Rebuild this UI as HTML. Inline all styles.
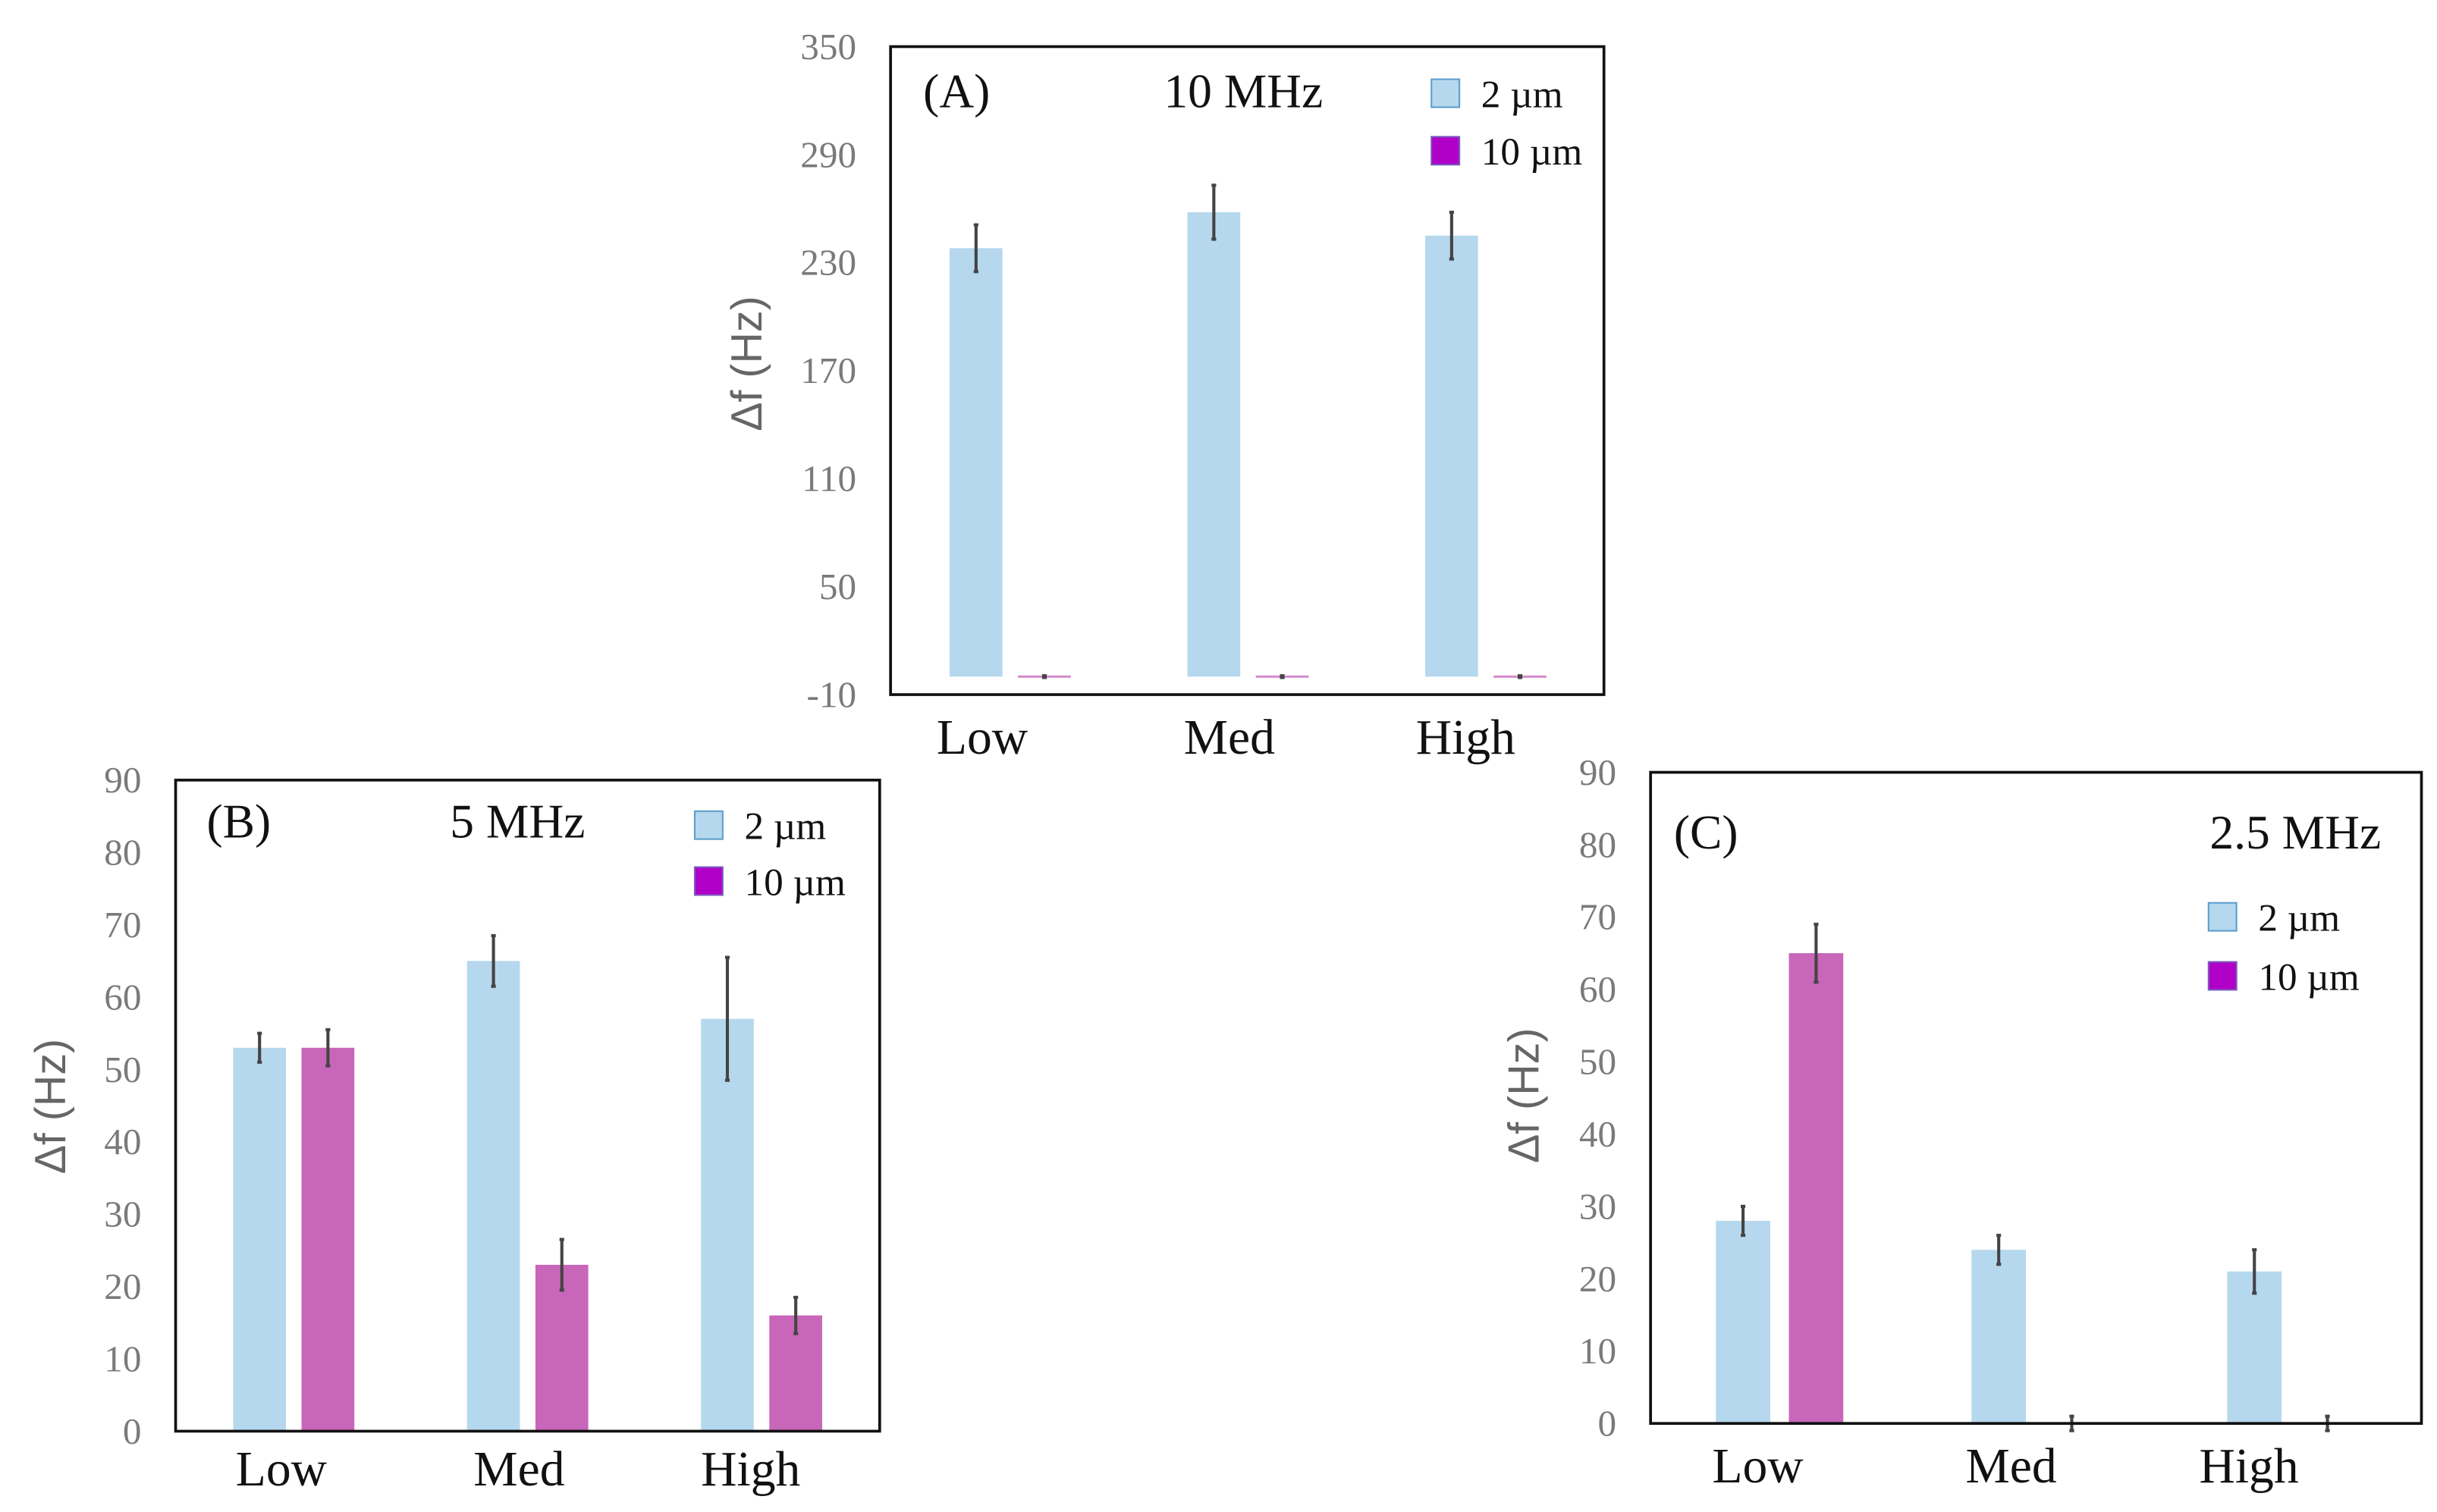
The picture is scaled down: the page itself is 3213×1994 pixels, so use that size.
<!DOCTYPE html>
<html><head><meta charset="utf-8"><style>
html,body{margin:0;padding:0;background:#fff}
svg{display:block}
</style></head><body>
<svg id="fig" width="3213" height="1994" viewBox="0 0 1568 973" preserveAspectRatio="none" xmlns="http://www.w3.org/2000/svg"></svg>
<script>
const categories = ["Low", "Med", "High"];
const seriesNames = ["2 µm", "10 µm"];
const aSmall = [238, 258, 245];
const aLarge = [0, 0, 0];
const aSmallErr = [13, 15, 13];
const aLargeErr = [0.5, 0.5, 0.5];
const aTicks = [-10, 50, 110, 170, 230, 290, 350];
const bSmall = [53, 65, 57];
const bLarge = [53, 23, 16];
const bSmallErr = [2, 3.5, 8.5];
const bLargeErr = [2.5, 3.5, 2.5];
const bTicks = [0, 10, 20, 30, 40, 50, 60, 70, 80, 90];
const cSmall = [28, 24, 21];
const cLarge = [65, 0, 0];
const cSmallErr = [2, 2, 3];
const cLargeErr = [4, 1, 1];
const cTicks = [0, 10, 20, 30, 40, 50, 60, 70, 80, 90];

const NS = "http://www.w3.org/2000/svg";
const svg = document.getElementById("fig");
function mk(tag, attrs, parent, text) {
  const e = document.createElementNS(NS, tag);
  for (const k in attrs) e.setAttribute(k, attrs[k]);
  if (text !== undefined) e.textContent = text;
  (parent || svg).appendChild(e);
  return e;
}

function panel(o) {
  const g = mk("g", {});
  
  
  const yMin = o.ticks[0], yMax = o.ticks[o.ticks.length - 1];
  const y = v => o.bottom - (v - yMin) / (yMax - yMin) * (o.bottom - o.top);
  o.ticks.forEach(t => {
    const tx = mk("text", {x: o.tickX, y: y(t) + 8, "text-anchor": "end", "font-family": "Liberation Serif, serif", "font-size": 24, fill: "#7a7a7a"}, g, String(t));
    
    
  });
  const yt = mk("text", {x: 0, y: 0, transform: `translate(${o.yTitleX},${o.yTitleY}) rotate(-90)`, "text-anchor": "middle", "font-family": "Liberation Sans, sans-serif", "font-size": 28, fill: "#666"}, g, "Δf (Hz)");
  
  
  const series = [[o.s1, o.e1, "#b5d8ee", 0], [o.s2, o.e2, "#c866b9", 1]];
  categories.forEach((c, i) => {
    const gx = o.g0 + i * o.gStep;
    series.forEach(([vals, errs, col, si]) => {
      const x0 = gx + si * o.offset;
      const v = vals[i];
      const yb = y(o.base), yv = y(v);
      if (v > 0) {
        const r = mk("rect", {x: x0, y: yv, width: o.bw, height: yb - yv, fill: col}, g);
        
        
      } else if (o.id === "a") {
        const l = mk("line", {x1: x0, x2: x0 + o.bw, y1: yv, y2: yv, stroke: "#d58ccc", "stroke-width": 1.5}, g);
        
        
      }
      const cx = x0 + o.bw / 2;
      const eb = mk("path", {d: `M${cx},${y(v + errs[i])}V${y(v - errs[i])}M${cx-1.5},${y(v + errs[i])}H${cx+1.5}M${cx-1.5},${y(v - errs[i])}H${cx+1.5}`, stroke: "#444", "stroke-width": 2, fill: "none"}, g);
      
      
    });
    const cl = mk("text", {x: o.labelX[i], y: o.labelY, "text-anchor": "middle", "font-family": "Liberation Serif, serif", "font-size": 32, fill: "#111"}, g, c);
    
    
  });
  const fr = mk("rect", {x: o.left, y: o.top, width: o.right - o.left, height: o.bottom - o.top, fill: "none", stroke: "#111", "stroke-width": 1.8}, g);
  
  
  const pl = mk("text", {x: o.plX, y: o.plY, "font-family": "Liberation Serif, serif", "font-size": 31, fill: "#111"}, g, o.plText);
  
  
  const ft = mk("text", {x: o.ftX, y: o.plY, "text-anchor": o.ftAnchor, "font-family": "Liberation Serif, serif", "font-size": 31, fill: "#111"}, g, o.ftText);
  
  
  const cols = [["#b5d8ee", "#5b9dcc"], ["#b000c8", "#7a5ac0"]];
  seriesNames.forEach((n, k) => {
    const ly = o.legY[k];
    const sq = mk("rect", {x: o.legX, y: ly, width: 18, height: 18, fill: cols[k][0], stroke: cols[k][1], "stroke-width": 1}, g);
    
    
    const lt = mk("text", {x: o.legX + 32, y: ly + 18, "font-family": "Liberation Serif, serif", "font-size": 25, fill: "#111"}, g, n);
    
    
  });
}

panel({id: "a", ticks: aTicks, base: 0, top: 30, bottom: 447, left: 573, right: 1032, tickX: 551,
  yTitleX: 490, yTitleY: 234, s1: aSmall, s2: aLarge, e1: aSmallErr, e2: aLargeErr,
  g0: 611, gStep: 153, offset: 44, bw: 34, labelX: [632, 791, 943], labelY: 485,
  plX: 594, plY: 69, plText: "(A)", ftX: 800, ftAnchor: "middle", ftText: "10 MHz",
  legX: 921, legY: [51, 88]});
panel({id: "b", ticks: bTicks, base: 0, top: 502, bottom: 921, left: 113, right: 566, tickX: 91,
  yTitleX: 42, yTitleY: 712, s1: bSmall, s2: bLarge, e1: bSmallErr, e2: bLargeErr,
  g0: 150, gStep: 150.5, offset: 44, bw: 34, labelX: [181, 334, 483], labelY: 956,
  plX: 133, plY: 539, plText: "(B)", ftX: 333, ftAnchor: "middle", ftText: "5 MHz",
  legX: 447, legY: [522, 558]});
panel({id: "c", ticks: cTicks, base: 0, top: 497, bottom: 916, left: 1062, right: 1558, tickX: 1040,
  yTitleX: 990, yTitleY: 705, s1: cSmall, s2: cLarge, e1: cSmallErr, e2: cLargeErr,
  g0: 1104, gStep: 164.5, offset: 47, bw: 35, labelX: [1131, 1294, 1447], labelY: 954,
  plX: 1077, plY: 546, plText: "(C)", ftX: 1532, ftAnchor: "end", ftText: "2.5 MHz",
  legX: 1421, legY: [581, 619]});
</script>
</body></html>
